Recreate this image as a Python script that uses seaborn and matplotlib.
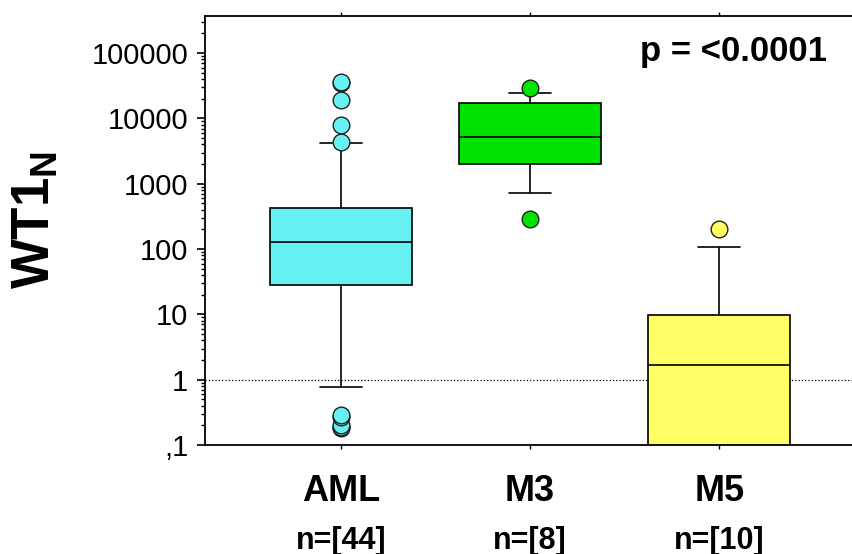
import pandas as pd
import seaborn as sns
import matplotlib.pyplot as plt
import matplotlib.transforms as mtransforms

# groups and labels
groups = ['AML', 'M3', 'M5']
n_labels = ['n=[44]', 'n=[8]', 'n=[10]']
box_colors = ['#66F2F2', '#00E300', '#FFFF66']

# WT1 values (log scale)
aml = [0.18, 0.19, 0.2, 0.27, 0.29, 0.76, 1.5, 3.2, 8, 15, 27, 29, 33, 40, 46,
       55, 62, 70, 82, 95, 108, 120, 136, 150, 170, 190, 215, 240, 270, 300,
       340, 380, 420, 450, 600, 900, 1500, 2600, 4150, 4300, 7900, 19000,
       35000, 36500]
m3 = [292, 721, 2810, 4200, 6600, 15070, 24300, 28900]
m5 = [0.01, 0.02, 0.04, 0.2, 1.2, 2.3, 8, 10.5, 108, 200]

yticks = [0.1, 1, 10, 100, 1000, 10000, 100000]
ytick_labels = [',1', '1', '10', '100', '1000', '10000', '100000']
p_text = 'p = <0.0001'

df = pd.DataFrame({
    'group': ['AML'] * len(aml) + ['M3'] * len(m3) + ['M5'] * len(m5),
    'value': aml + m3 + m5,
})

sns.set_style('ticks')
plt.rcParams['font.family'] = ['Liberation Sans', 'DejaVu Sans']
plt.rcParams['mathtext.fontset'] = 'custom'
plt.rcParams['mathtext.bf'] = 'Liberation Sans:bold'
plt.rcParams['mathtext.rm'] = 'Liberation Sans'
for key in ['text.color', 'axes.labelcolor', 'xtick.color', 'ytick.color',
            'axes.edgecolor']:
    plt.rcParams[key] = 'black'

fig = plt.figure(figsize=(8.52, 5.54), dpi=100)
ax = fig.add_axes([205 / 852, 109 / 554, 647 / 852, 429 / 554])

ax.axhline(1, color='black', linestyle=':', linewidth=0.9, zorder=0.5)

sns.boxplot(data=df, x='group', y='value', hue='group', order=groups,
            hue_order=groups, palette=box_colors, legend=False,
            log_scale=True, whis=(10, 90), width=0.75, saturation=1,
            linecolor='black', linewidth=1.2,
            flierprops=dict(marker='o', markersize=12,
                            markeredgecolor='#222222', markeredgewidth=1),
            ax=ax)

for cont, col in zip(ax.containers, box_colors):
    for fl in cont.fliers:
        fl.set_markerfacecolor(col)
    for cap in cont.caps:
        xd = cap.get_xdata()
        mid = (xd[0] + xd[1]) / 2
        cap.set_xdata([mid - 0.11, mid + 0.11])

ax.set_xlim(-0.717, 2.701)
ax.set_ylim(0.1, 370000)
ax.set_yticks(yticks, ytick_labels)
ax.set_xticks(range(len(groups)), groups)

ax.tick_params(axis='y', which='major', length=6, width=1.2, pad=6,
               labelsize=21, direction='out')
ax.tick_params(axis='y', which='minor', length=3, width=1, direction='out')
ax.tick_params(axis='x', which='major', length=3, width=1, direction='out',
               top=True, pad=18, labelsize=26)
for lab in ax.get_xticklabels():
    lab.set_fontweight('bold')

for s in ['left', 'bottom', 'top']:
    ax.spines[s].set_linewidth(1.3)
    ax.spines[s].set_visible(True)
ax.spines['right'].set_visible(False)

ax.set_xlabel('')
ax.set_ylabel('')

trans = mtransforms.blended_transform_factory(ax.transData, ax.transAxes)
for i, lab in enumerate(n_labels):
    ax.text(i, -0.223, lab, transform=trans, ha='center', va='center',
            fontsize=22, fontweight='bold', clip_on=False)

ax.text(0.961, 0.917, p_text, transform=ax.transAxes, ha='right',
        va='center', fontsize=25, fontweight='bold')

fig.text(36 / 852, 1 - 220 / 554, r'$\mathbf{WT1_N}$', rotation=90,
         ha='center', va='center', fontsize=38)

fig.savefig('out.png', dpi=100)
